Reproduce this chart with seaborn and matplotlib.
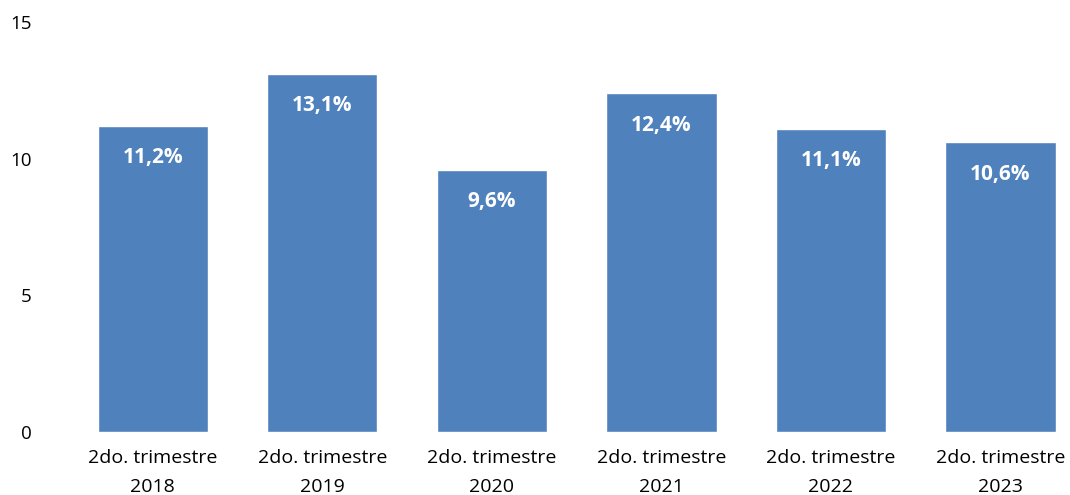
import matplotlib
matplotlib.use("Agg")
import matplotlib.pyplot as plt
import seaborn as sns
import pandas as pd

categories = ["2do. trimestre\n2018", "2do. trimestre\n2019", "2do. trimestre\n2020",
              "2do. trimestre\n2021", "2do. trimestre\n2022", "2do. trimestre\n2023"]
values = [11.2, 13.1, 9.6, 12.4, 11.1, 10.6]
labels = ["11,2%", "13,1%", "9,6%", "12,4%", "11,1%", "10,6%"]
yticks = [0, 5, 10, 15]

sns.set_theme(style="white")
plt.rcParams['font.family'] = ['Open Sans', 'DejaVu Sans']

df = pd.DataFrame({"cat": categories, "val": values})

fig = plt.figure(figsize=(10.7, 4.95), dpi=100)
ax = fig.add_axes([68/1070, (495-432)/495, 1 - 68/1070, (432-22)/495])
sns.barplot(data=df, x="cat", y="val", color="#4F81BD", saturation=1, width=0.65, ax=ax)

for i, (v, lab) in enumerate(zip(values, labels)):
    ax.annotate(lab, (i, v), xytext=(0, -23), textcoords="offset points",
                ha="center", va="center", color="white", fontsize=15, fontweight="bold")

ax.set_ylim(0, 15)
ax.set_xlim(-0.5, 5.41)
ax.set_yticks(yticks)
ax.set_yticklabels([str(t) for t in yticks], fontsize=13.5, color="black")
ax.tick_params(axis="x", labelsize=14, length=0, pad=12, labelcolor="black")
for t in ax.get_xticklabels():
    t.set_linespacing(1.8)
ax.tick_params(axis="y", length=0, pad=26)
ax.set_xlabel("")
ax.set_ylabel("")
for s in ax.spines.values():
    s.set_visible(False)
ax.grid(False)

fig.savefig("out.png", dpi=100)
